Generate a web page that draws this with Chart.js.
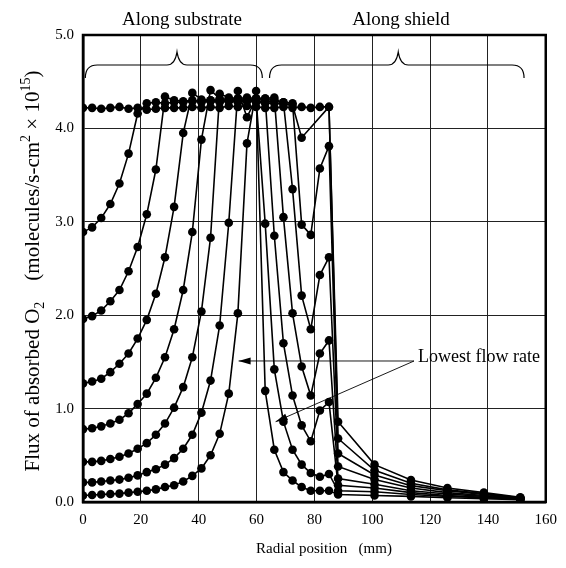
<!DOCTYPE html>
<html>
<head>
<meta charset="utf-8">
<script src="https://cdn.jsdelivr.net/npm/chart.js@4.4.1/dist/chart.umd.min.js"></script>
<style>
  html, body { margin: 0; padding: 0; background: #fff; }
  #wrap { width: 566px; height: 568px; }
</style>
</head>
<body>
<div id="wrap"><canvas id="c" width="566" height="568"></canvas></div>
<script>
// Measurement stations along the radius (mm): substrate 0-63, shield beyond
const positions = [0, 3.15, 6.3, 9.45, 12.6, 15.75, 18.9, 22.05, 25.2, 28.35, 31.5, 34.65, 37.8, 40.95,
  44.1, 47.25, 50.4, 53.55, 56.7, 59.85, 63, 66.15, 69.3, 72.45, 75.6, 78.75, 81.9, 85.05, 88.2,
  100.8, 113.4, 126, 138.6, 151.2];

// Flux of absorbed O2 (x 1e15 molecules/s-cm^2), one array per gas flow rate, highest first.
// null = station not measured for that flow rate.
const flowA = [4.22, 4.22, 4.21, 4.22, 4.23, 4.21, 4.22, 4.20, 4.21, 4.22, 4.22, 4.22, 4.23, 4.22,
  4.23, 4.22, 4.24, 4.23, 4.24, 4.23, 4.22, 4.22, 4.23, 4.22, 4.23, 4.22, 4.23, 4.23, 0.86,
  0.40, 0.235, 0.15, 0.10, 0.05];
const flowB = [2.89, 2.94, 3.04, 3.19, 3.41, 3.73, 4.16, 4.27, 4.28, 4.27, 4.28, 4.28, 4.29, 4.28,
  4.29, 4.28, 4.29, 4.28, 4.29, 4.28, 4.27, 4.27, 4.26, 4.25, 3.90, null, null, 4.23, 0.68,
  0.34, 0.20, 0.13, 0.09, 0.045];
const flowC = [1.96, 1.99, 2.05, 2.15, 2.27, 2.47, 2.73, 3.08, 3.56, 4.34, 4.30, 4.29, 4.30, 4.29,
  4.30, 4.29, 4.30, 4.29, 4.30, 4.29, 4.28, 4.29, 4.28, 4.27, 2.97, 2.86, 3.57, 3.81, 0.52,
  0.29, 0.175, 0.12, 0.08, 0.04];
const flowD = [1.27, 1.29, 1.32, 1.39, 1.48, 1.59, 1.75, 1.95, 2.23, 2.62, 3.16, 3.95, 4.38, 4.31,
  4.30, 4.31, 4.30, 4.31, 4.30, 4.31, 4.30, 4.31, 4.28, 3.35, 2.21, 1.85, 2.43, 2.62, 0.38,
  0.24, 0.15, 0.10, 0.07, 0.04];
const flowE = [0.78, 0.79, 0.81, 0.84, 0.88, 0.95, 1.05, 1.16, 1.33, 1.55, 1.85, 2.27, 2.89, 3.88,
  4.41, 4.32, 4.31, 4.32, 4.31, 4.32, 4.32, 4.33, 3.05, 2.02, 1.45, 1.14, 1.59, 1.73, 0.25,
  0.19, 0.12, 0.085, 0.06, 0.035];
const flowF = [0.43, 0.43, 0.44, 0.46, 0.485, 0.52, 0.57, 0.63, 0.72, 0.84, 1.01, 1.23, 1.55, 2.04,
  2.83, 4.37, 4.33, 4.32, 4.33, 4.32, 4.32, 2.85, 1.70, 1.14, 0.82, 0.65, 0.98, 1.07, 0.18,
  0.15, 0.10, 0.07, 0.05, 0.03];
const flowG = [0.21, 0.21, 0.22, 0.23, 0.24, 0.26, 0.285, 0.32, 0.35, 0.40, 0.47, 0.57, 0.72, 0.955,
  1.30, 1.89, 2.99, 4.40, 4.12, 4.32, 2.98, 1.42, 0.86, 0.56, 0.40, 0.31, 0.27, 0.30, 0.12,
  0.11, 0.08, 0.06, 0.045, 0.03];
const flowH = [0.07, 0.075, 0.08, 0.085, 0.09, 0.10, 0.11, 0.12, 0.135, 0.16, 0.18, 0.22, 0.28, 0.36,
  0.50, 0.73, 1.16, 2.02, 3.84, 4.40, 1.19, 0.56, 0.32, 0.23, 0.16, 0.12, 0.12, 0.12, 0.08,
  0.07, 0.06, 0.045, 0.035, 0.025];
const flowSeries = [flowA, flowB, flowC, flowD, flowE, flowF, flowG, flowH];

const xTicks = [0, 20, 40, 60, 80, 100, 120, 140, 160];
const yTicks = [0, 1, 2, 3, 4, 5];

const serif = '"Liberation Serif", "DejaVu Serif", serif';

const datasets = flowSeries.map(vals => ({
  data: positions.map((x, i) => ({ x, y: vals[i] })),
  borderColor: '#000',
  backgroundColor: '#000',
  borderWidth: 1.6,
  pointRadius: 4.3,
  pointBorderWidth: 0,
  pointHoverRadius: 4.3,
  tension: 0,
  spanGaps: true,
  showLine: true
}));

// Region braces, header captions, axis titles and the flow-rate callout
const decorations = {
  id: 'decorations',
  afterDraw(chart) {
    const { ctx, chartArea: a, scales: { x, y } } = chart;
    ctx.save();

    // frame around the plot
    ctx.strokeStyle = '#000';
    ctx.lineWidth = 2.5;
    ctx.strokeRect(a.left, a.top, a.right - a.left, a.bottom - a.top);

    // braces
    const brace = (x0, x1, xm, yBase, yTip, yEnd) => {
      ctx.beginPath();
      ctx.lineWidth = 1.2;
      ctx.moveTo(x0, yEnd);
      ctx.quadraticCurveTo(x0, yBase, x0 + 12, yBase);
      ctx.lineTo(xm - 10, yBase);
      ctx.quadraticCurveTo(xm - 2, yBase, xm, yTip);
      ctx.quadraticCurveTo(xm + 2, yBase, xm + 10, yBase);
      ctx.lineTo(x1 - 12, yBase);
      ctx.quadraticCurveTo(x1, yBase, x1, yEnd);
      ctx.stroke();
    };
    brace(x.getPixelForValue(0.8), x.getPixelForValue(62), x.getPixelForValue(32.5), 65, 52, 78);
    brace(x.getPixelForValue(64.5), x.getPixelForValue(152.5), x.getPixelForValue(109), 65, 52, 78);

    ctx.fillStyle = '#000';
    ctx.font = '19px ' + serif;
    ctx.textAlign = 'center';
    ctx.textBaseline = 'alphabetic';
    ctx.fillText('Along substrate', 182, 25);
    ctx.fillText('Along shield', 401, 25);

    // x-axis title
    ctx.font = '15px ' + serif;
    ctx.fillText('Radial position   (mm)', 324, 553);

    // y-axis title with sub/superscripts
    ctx.translate(39, 271);
    ctx.rotate(-Math.PI / 2);
    const parts = [
      ['Flux of absorbed O', 21, 0],
      ['2', 14, 5],
      ['    (molecules/s-cm', 21, 0],
      ['2', 14, -9],
      [' \u00d7 10', 21, 0],
      ['15', 14, -9],
      [')', 21, 0]
    ];
    let total = 0;
    parts.forEach(p => { ctx.font = p[1] + 'px ' + serif; total += ctx.measureText(p[0]).width; });
    let cx = -total / 2;
    ctx.textAlign = 'left';
    parts.forEach(p => {
      ctx.font = p[1] + 'px ' + serif;
      ctx.fillText(p[0], cx, p[2]);
      cx += ctx.measureText(p[0]).width;
    });
    ctx.setTransform(1, 0, 0, 1, 0, 0);

    // callout
    ctx.font = '18px ' + serif;
    ctx.textAlign = 'left';
    ctx.fillText('Lowest flow rate', 418, 362);
    const arrow = (fx, fy, tx, ty) => {
      ctx.beginPath();
      ctx.lineWidth = 0.9;
      ctx.moveTo(fx, fy);
      ctx.lineTo(tx, ty);
      ctx.stroke();
      const ang = Math.atan2(ty - fy, tx - fx);
      ctx.beginPath();
      ctx.moveTo(tx, ty);
      ctx.lineTo(tx - 12 * Math.cos(ang) + 3.5 * Math.sin(ang), ty - 12 * Math.sin(ang) - 3.5 * Math.cos(ang));
      ctx.lineTo(tx - 12 * Math.cos(ang) - 3.5 * Math.sin(ang), ty - 12 * Math.sin(ang) + 3.5 * Math.cos(ang));
      ctx.closePath();
      ctx.fill();
    };
    arrow(414, 361, x.getPixelForValue(53.8), y.getPixelForValue(1.51));
    arrow(414, 361, x.getPixelForValue(66.6), y.getPixelForValue(0.86));
    ctx.restore();
  }
};

new Chart(document.getElementById('c'), {
  type: 'scatter',
  data: { datasets },
  options: {
    responsive: false,
    animation: false,
    events: [],
    layout: { padding: { top: 35, right: 11, left: 0, bottom: 0 } },
    plugins: { legend: { display: false }, tooltip: { enabled: false } },
    scales: {
      x: {
        type: 'linear', min: 0, max: 160,
        afterBuildTicks: s => { s.ticks = xTicks.map(v => ({ value: v })); },
        afterFit: s => { s.height = 66; },
        ticks: { color: '#000', padding: 9, font: { family: serif, size: 15 }, callback: v => String(v) },
        grid: { color: '#222', lineWidth: 1, drawTicks: false },
        border: { color: '#000', width: 2.5 }
      },
      y: {
        type: 'linear', min: 0, max: 5,
        afterBuildTicks: s => { s.ticks = yTicks.map(v => ({ value: v })); },
        afterFit: s => { s.width = 83; },
        ticks: { color: '#000', padding: 9, font: { family: serif, size: 15 }, callback: v => v.toFixed(1) },
        grid: { color: '#222', lineWidth: 1, drawTicks: false },
        border: { color: '#000', width: 2.5 }
      }
    }
  },
  plugins: [decorations]
});
</script>
</body>
</html>
